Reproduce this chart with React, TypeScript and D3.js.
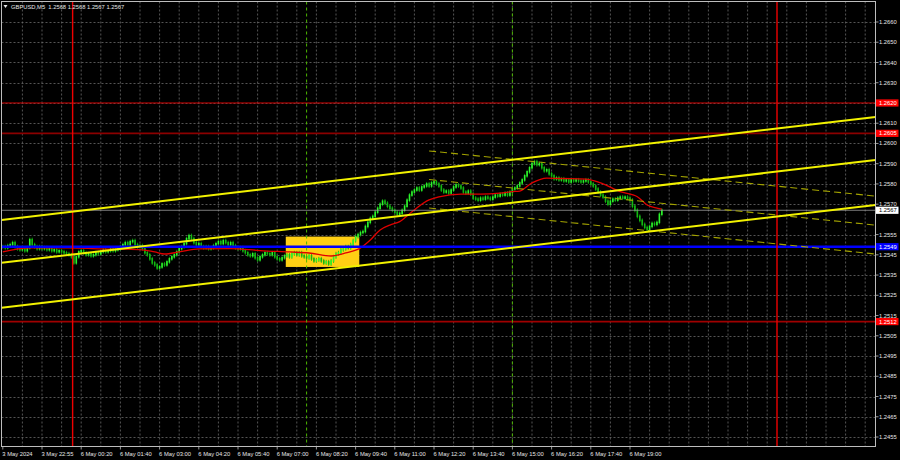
import * as d3 from "d3";
import { useEffect, useRef } from "react";

const SYMBOL = "GBPUSD,M5";
const LAST_OHLC = ["1.2568", "1.2568", "1.2567", "1.2567"];

// right price scale
const PRICE_TICKS = [
  1.266, 1.265, 1.264, 1.263, 1.262, 1.261, 1.26, 1.259, 1.258, 1.257, 1.2555,
  1.2545, 1.2535, 1.2525, 1.2515, 1.2505, 1.2495, 1.2485, 1.2475, 1.2465,
  1.2455,
];

// bottom time scale (bar index -> label), bar 0 = 3 May 21:35
const TIME_TICK_BARS = [
  0, 16, 32, 48, 64, 80, 96, 112, 128, 144, 160, 176, 192, 208, 224, 240, 256,
];
const TIME_TICK_LABELS = [
  "3 May 2024",
  "3 May 22:55",
  "6 May 00:20",
  "6 May 01:40",
  "6 May 03:00",
  "6 May 04:20",
  "6 May 05:40",
  "6 May 07:00",
  "6 May 08:20",
  "6 May 09:40",
  "6 May 11:00",
  "6 May 12:20",
  "6 May 13:40",
  "6 May 15:00",
  "6 May 16:20",
  "6 May 17:40",
  "6 May 19:00",
];

// M5 closes, pips above 1.2500
const CLOSES = [
  49, 48.5, 49.5, 50, 51, 49, 48, 47.5, 48, 47, 48.5, 52.5, 50, 49, 48, 49, 48,
  48.5, 47.5, 48, 47, 47.5, 46.5, 47, 46.5, 46, 45.5, 45, 44, 41, 44, 46.5, 47,
  46, 45, 45.5, 44.5, 45, 46, 45.5, 46.5, 47.5, 46.5, 47, 48, 47, 47.5, 48, 49,
  50, 51, 50, 51.5, 52, 50, 49, 49.5, 48, 46, 45, 43, 41, 40, 38.5, 39, 40.5,
  40, 41.5, 43, 44, 45, 46.5, 48, 49, 50.5, 53, 54.5, 53, 51, 50, 50.5, 49,
  48.5, 49, 48, 48.5, 49.5, 50.5, 51.5, 50.5, 52, 51, 50, 51, 49.5, 48.5, 48,
  48.5, 47, 46, 45, 44.5, 45.5, 43.5, 42.5, 44, 45, 46, 45.5, 45, 46, 44, 43,
  42.5, 43.5, 44.5, 45, 44, 45.5, 46, 45, 46, 44.5, 44, 43.5, 44.5, 43, 42,
  42.5, 43, 42, 41, 41.5, 40.5, 42, 44, 45.5, 46, 47.5, 48, 49, 48.5, 50, 52,
  54, 55, 56, 56.5, 59, 61, 63, 64, 66, 68, 70, 71.5, 70.5, 69, 68, 67, 66, 65,
  65.5, 67, 69, 72, 74.5, 76, 77, 78, 77, 78.5, 79, 80, 79, 80.5, 81, 80, 79,
  77, 76, 76.5, 75.5, 77, 78.5, 79.5, 79, 78, 76, 75.5, 76.5, 75, 73, 72.5, 72,
  73, 72.5, 73.5, 73, 72.5, 73.5, 74.5, 74, 75, 74.5, 75.5, 74.5, 76, 77.5, 78,
  79, 80.5, 82, 84, 86, 88, 90, 91, 89.5, 90, 88, 86.5, 87, 85, 84, 82.5, 83,
  82, 82.5, 81.5, 82, 81, 82, 81.5, 82, 81.5, 81, 81.5, 82, 81, 80, 79, 77.5,
  76, 74.5, 73.5, 71.5, 70, 71.5, 72.5, 72, 73, 73.5, 73, 73.5, 73, 72, 69, 67,
  64, 62, 60, 58.5, 57.5, 59, 60.5, 60, 61, 65, 67,
];

// moving average (bar index, pips above 1.2500)
const MA_BARS = [
  0, 11, 27, 40, 56, 62, 66, 72, 80, 93, 105, 117, 125, 134, 140, 146, 150, 154,
  158, 162, 167, 174, 178, 187, 195, 203, 208, 211, 216, 222, 227, 238, 244,
  252, 259, 263, 267, 269,
];
const MA_PIPS = [
  46.5, 48.4, 48.4, 47.9, 47.6, 46.4, 45.4, 46.4, 47.9, 48.1, 47.1, 46.4, 45.9,
  44.4, 45.9, 48.4, 52.3, 57.3, 59.7, 61.4, 66.3, 72.1, 73.6, 75, 75, 75.5,
  76.2, 76.5, 80.5, 82.9, 82.7, 82.4, 80.5, 76.2, 73.7, 69.6, 68.1, 67.6,
];

// horizontal levels
const RESISTANCE_LEVELS = [1.262, 1.2605, 1.2512];
const BLUE_LEVEL = 1.2549;
const BID = 1.2567;

// vertical markers (bar index)
const DAY_BREAKS = [28.5, 316];
const SESSION_MARKS = [124, 208];

// ascending channel: pips at bar 0 and bar 356
const CHANNEL_FROM_BAR = 0;
const CHANNEL_TO_BAR = 356;
const CHANNEL_FROM = [62.3, 41.1, 18.9];
const CHANNEL_TO = [113.1, 91.8, 69.6];

// descending dashed channel
const DOWN_FROM_BAR = 174;
const DOWN_TO_BAR = 356;
const DOWN_FROM = [96.3, 82.2, 68.1];
const DOWN_TO = [74.0, 59.7, 45.4];

// yellow box (bars, prices)
const BOX_BARS = [115.5, 145.5];
const BOX_PRICES = [1.2554, 1.2539];

const pipsToPrice = (p: number) => 1.25 + p / 10000;

export default function App() {
  const svgRef = useRef<SVGSVGElement>(null);

  useEffect(() => {
    if (!svgRef.current) return;
    document.body.style.margin = "0";

    const svg = d3.select(svgRef.current);
    svg.selectAll("*").remove();

    const W = 900;
    const H = 460;
    const plot = { left: 1.5, top: 1.5, right: 875.5, bottom: 446.5 };
    const font = "'Liberation Sans', Arial, sans-serif";
    const fs = "5.8px";

    const x = d3.scaleLinear().domain([0, 356]).range([2.8, 875]);
    const y = d3.scaleLinear().domain([1.2455, 1.266]).range([437, 22]);

    svg.append("rect").attr("width", W).attr("height", H).attr("fill", "#000");

    const defs = svg.append("defs");
    defs
      .append("clipPath")
      .attr("id", "plot-clip")
      .append("rect")
      .attr("x", plot.left)
      .attr("y", plot.top)
      .attr("width", plot.right - plot.left)
      .attr("height", plot.bottom - plot.top);

    const g = svg.append("g").attr("clip-path", "url(#plot-clip)");

    // grid
    const grid = g
      .append("g")
      .attr("stroke", "#6a6a6a")
      .attr("stroke-width", 0.8)
      .attr("stroke-dasharray", "2,2");
    PRICE_TICKS.forEach((p) => {
      grid
        .append("line")
        .attr("x1", plot.left)
        .attr("x2", plot.right)
        .attr("y1", Math.round(y(p)) + 0.5)
        .attr("y2", Math.round(y(p)) + 0.5);
    });
    d3.range(8, 357, 8).forEach((b) => {
      grid
        .append("line")
        .attr("x1", x(b))
        .attr("x2", x(b))
        .attr("y1", plot.top)
        .attr("y2", plot.bottom);
    });

    // yellow box (background object)
    g.append("rect")
      .attr("x", x(BOX_BARS[0]))
      .attr("y", y(BOX_PRICES[0]))
      .attr("width", x(BOX_BARS[1]) - x(BOX_BARS[0]))
      .attr("height", y(BOX_PRICES[1]) - y(BOX_PRICES[0]))
      .attr("fill", "#ffcf14");

    // candles: body from previous close to close, thin shadow around it
    const candles = g.append("g");
    CLOSES.forEach((c, i) => {
      const o = i === 0 ? c : CLOSES[i - 1];
      const top = y(pipsToPrice(Math.max(o, c)));
      const bot = y(pipsToPrice(Math.min(o, c)));
      candles
        .append("line")
        .attr("x1", x(i))
        .attr("x2", x(i))
        .attr("y1", top - 2)
        .attr("y2", bot + 2)
        .attr("stroke", "#10b010")
        .attr("stroke-width", 0.8);
      candles
        .append("rect")
        .attr("x", x(i) - 0.8)
        .attr("width", 1.6)
        .attr("y", top - 0.8)
        .attr("height", Math.max(2, bot - top + 1.6))
        .attr("fill", c >= o ? "#2cf52c" : "#12b812");
    });

    // moving average
    const maLine = d3
      .line<number>()
      .x((_, i) => x(MA_BARS[i]))
      .y((d) => y(pipsToPrice(d)))
      .curve(d3.curveMonotoneX);
    g.append("path")
      .datum(MA_PIPS)
      .attr("d", maLine)
      .attr("fill", "none")
      .attr("stroke", "#e00000")
      .attr("stroke-width", 1.3);

    // bid line
    g.append("line")
      .attr("x1", plot.left)
      .attr("x2", plot.right)
      .attr("y1", y(BID))
      .attr("y2", y(BID))
      .attr("stroke", "#9a9a9a")
      .attr("stroke-width", 0.8);

    // red levels
    const levelColors = ["#d00000", "#8c0000", "#a00000"];
    const levelWidths = [1, 1.6, 1.6];
    RESISTANCE_LEVELS.forEach((p, i) => {
      g.append("line")
        .attr("x1", plot.left)
        .attr("x2", plot.right)
        .attr("y1", y(p))
        .attr("y2", y(p))
        .attr("stroke", levelColors[i])
        .attr("stroke-width", levelWidths[i]);
    });

    // blue level
    g.append("line")
      .attr("x1", plot.left)
      .attr("x2", plot.right)
      .attr("y1", y(BLUE_LEVEL))
      .attr("y2", y(BLUE_LEVEL))
      .attr("stroke", "#0000ff")
      .attr("stroke-width", 2.6);

    // vertical markers
    DAY_BREAKS.forEach((b) => {
      g.append("line")
        .attr("x1", x(b))
        .attr("x2", x(b))
        .attr("y1", plot.top)
        .attr("y2", plot.bottom)
        .attr("stroke", "#ee0000")
        .attr("stroke-width", 1.4);
    });
    SESSION_MARKS.forEach((b) => {
      g.append("line")
        .attr("x1", x(b))
        .attr("x2", x(b))
        .attr("y1", plot.top)
        .attr("y2", plot.bottom)
        .attr("stroke", "#4db800")
        .attr("stroke-width", 1)
        .attr("stroke-dasharray", "3,3");
    });

    // descending dashed channel
    DOWN_FROM.forEach((p, i) => {
      g.append("line")
        .attr("x1", x(DOWN_FROM_BAR))
        .attr("y1", y(pipsToPrice(p)))
        .attr("x2", x(DOWN_TO_BAR))
        .attr("y2", y(pipsToPrice(DOWN_TO[i])))
        .attr("stroke", "#a3a300")
        .attr("stroke-width", 1.1)
        .attr("stroke-dasharray", "7,4");
    });

    // ascending channel
    CHANNEL_FROM.forEach((p, i) => {
      const x1 = x(CHANNEL_FROM_BAR);
      const x2 = x(CHANNEL_TO_BAR);
      const y1 = y(pipsToPrice(p));
      const y2 = y(pipsToPrice(CHANNEL_TO[i]));
      const k = (y2 - y1) / (x2 - x1);
      g.append("line")
        .attr("x1", plot.left)
        .attr("y1", y1 + k * (plot.left - x1))
        .attr("x2", plot.right)
        .attr("y2", y1 + k * (plot.right - x1))
        .attr("stroke", "#f2f200")
        .attr("stroke-width", 2);
    });

    // frame
    svg
      .append("rect")
      .attr("x", plot.left)
      .attr("y", plot.top)
      .attr("width", plot.right - plot.left)
      .attr("height", plot.bottom - plot.top)
      .attr("fill", "none")
      .attr("stroke", "#bdbdbd")
      .attr("stroke-width", 1);

    // price axis
    const axisY = svg
      .append("g")
      .attr("font-family", font)
      .attr("font-size", fs)
      .attr("fill", "#e6e6e6");
    PRICE_TICKS.forEach((p) => {
      axisY
        .append("line")
        .attr("x1", plot.right)
        .attr("x2", plot.right + 3)
        .attr("y1", y(p))
        .attr("y2", y(p))
        .attr("stroke", "#bdbdbd")
        .attr("stroke-width", 0.8);
      axisY
        .append("text")
        .attr("x", plot.right + 3.5)
        .attr("y", y(p))
        .attr("dy", "0.35em")
        .text(d3.format(".4f")(p));
    });

    // coloured price tags
    const tag = (p: number, bg: string, fg: string) => {
      const t = svg.append("g").attr("font-family", font).attr("font-size", fs);
      t.append("rect")
        .attr("x", plot.right + 0.5)
        .attr("y", y(p) - 3.6)
        .attr("width", 22.5)
        .attr("height", 7.2)
        .attr("fill", bg);
      t.append("text")
        .attr("x", plot.right + 3.5)
        .attr("y", y(p))
        .attr("dy", "0.35em")
        .attr("fill", fg)
        .text(d3.format(".4f")(p));
    };
    RESISTANCE_LEVELS.forEach((p) => tag(p, "#ff0000", "#ffffff"));
    tag(BLUE_LEVEL, "#0000ff", "#ffffff");
    tag(BID, "#ffffff", "#000000");

    // time axis
    const axisX = svg
      .append("g")
      .attr("font-family", font)
      .attr("font-size", fs)
      .attr("fill", "#e6e6e6");
    TIME_TICK_BARS.forEach((b, i) => {
      axisX
        .append("line")
        .attr("x1", x(b))
        .attr("x2", x(b))
        .attr("y1", plot.bottom)
        .attr("y2", plot.bottom + 3)
        .attr("stroke", "#bdbdbd")
        .attr("stroke-width", 0.8);
      axisX
        .append("text")
        .attr("x", x(b) - 0.5)
        .attr("y", 456)
        .text(TIME_TICK_LABELS[i]);
    });

    // title
    svg
      .append("path")
      .attr("d", "M3.5,5 L7.5,5 L5.5,8 Z")
      .attr("fill", "#e6e6e6");
    svg
      .append("text")
      .attr("x", 11)
      .attr("y", 8.6)
      .attr("font-family", font)
      .attr("font-size", fs)
      .attr("fill", "#e6e6e6")
      .attr("xml:space", "preserve")
      .text(`${SYMBOL}  ${LAST_OHLC.join(" ")}`);
  }, []);

  return (
    <div style={{ position: "absolute", left: 0, top: 0 }}>
      <svg ref={svgRef} width={900} height={460} style={{ display: "block" }} />
    </div>
  );
}
